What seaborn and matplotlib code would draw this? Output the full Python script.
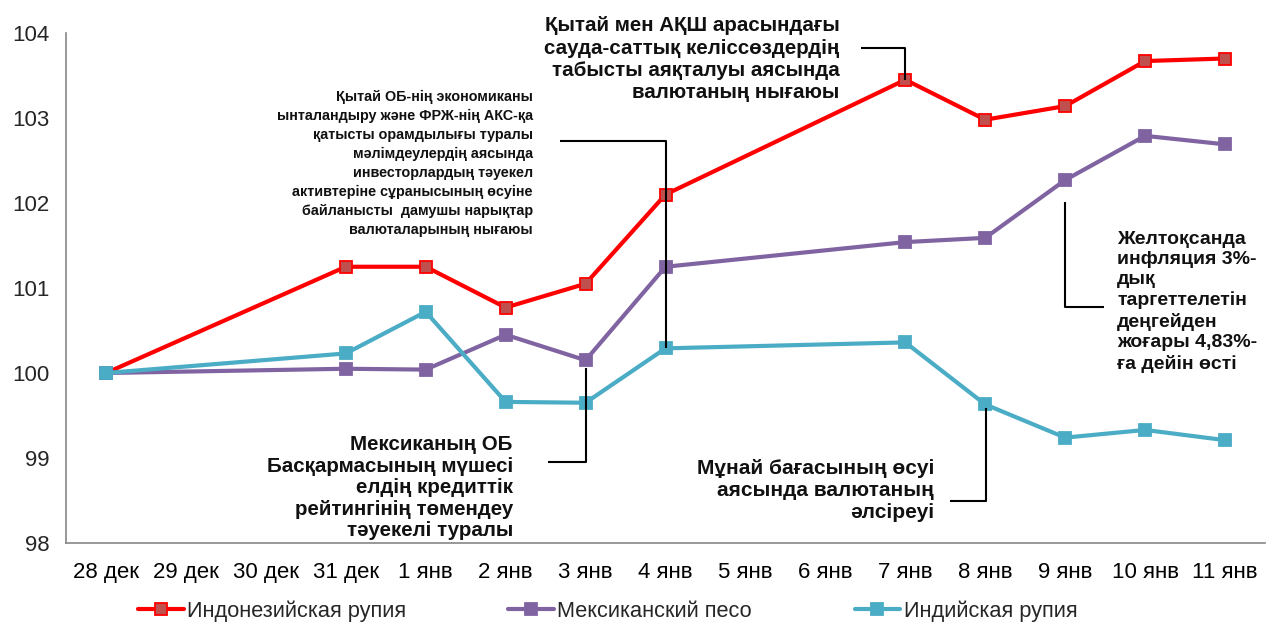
import matplotlib
matplotlib.use("Agg")
import matplotlib.pyplot as plt
from matplotlib import font_manager
import seaborn as sns
import pandas as pd
import numpy as np

categories = ["28 дек", "29 дек", "30 дек", "31 дек", "1 янв", "2 янв", "3 янв",
              "4 янв", "5 янв", "6 янв", "7 янв", "8 янв", "9 янв", "10 янв", "11 янв"]
obs_dates = ["28 дек", "31 дек", "1 янв", "2 янв", "3 янв", "4 янв",
             "7 янв", "8 янв", "9 янв", "10 янв", "11 янв"]
idr = [100.0, 101.25, 101.25, 100.77, 101.05, 102.10, 103.45, 102.98, 103.14, 103.67, 103.70]
mxn = [100.0, 100.05, 100.04, 100.45, 100.15, 101.25, 101.54, 101.59, 102.27, 102.79, 102.69]
inr = [100.0, 100.23, 100.72, 99.66, 99.65, 100.29, 100.36, 99.63, 99.24, 99.33, 99.21]
series_names = ["Индонезийская рупия", "Мексиканский песо", "Индийская рупия"]
y_ticks = [98, 99, 100, 101, 102, 103, 104]

sns.set_theme(style="white")
names = {f.name for f in font_manager.fontManager.ttflist}
base_font = "Liberation Sans" if "Liberation Sans" in names else "DejaVu Sans"
narrow_font = "Liberation Sans Narrow" if "Liberation Sans Narrow" in names else base_font
plt.rcParams["font.family"] = [base_font, "DejaVu Sans"]

pos = {c: i for i, c in enumerate(categories)}
rows = []
for name, vals in zip(series_names, [idr, mxn, inr]):
    for d, v in zip(obs_dates, vals):
        rows.append({"series": name, "x": pos[d], "value": v})
df = pd.DataFrame(rows)

fig = plt.figure(figsize=(12.73, 6.24), dpi=100)
ax = fig.add_axes([66 / 1273, 1 - 543 / 624, 1199 / 1273, 510 / 624])

styles = {
    "Индонезийская рупия": dict(color="#FF0000", mfc="#C0504D", mec="#FF0000"),
    "Мексиканский песо": dict(color="#8064A2", mfc="#8064A2", mec="#8064A2"),
    "Индийская рупия": dict(color="#4BACC6", mfc="#4BACC6", mec="#4BACC6"),
}
for name in series_names:
    st = styles[name]
    sub = df[df["series"] == name]
    sns.lineplot(data=sub, x="x", y="value", ax=ax, color=st["color"], lw=3.0,
                 marker="s", markersize=8, markerfacecolor=st["mfc"],
                 markeredgecolor=st["mec"], markeredgewidth=1.3, label=name,
                 legend=False, zorder=3)

ax.set_xlim(-0.5, len(categories) - 0.5)
ax.set_ylim(98, 104)
ax.set_yticks(y_ticks)
ax.set_yticklabels([str(t) for t in y_ticks], fontsize=16)
ax.set_xticks(range(len(categories)))
ax.set_xticklabels(categories, fontsize=16)
ax.set_xticks(np.arange(-0.5, len(categories), 1), minor=True)
ax.tick_params(axis="x", which="major", length=0, pad=14, colors="black")
ax.tick_params(axis="x", which="minor", length=6, width=1, color="#868686", direction="out")
ax.tick_params(axis="y", which="major", length=6, width=1, color="#868686", direction="out", pad=6)
ax.set_xlabel("")
ax.set_ylabel("")
for s in ["top", "right"]:
    ax.spines[s].set_visible(False)
for s in ["left", "bottom"]:
    ax.spines[s].set_color("#868686")
    ax.spines[s].set_linewidth(1.2)

ann_kw = dict(fontfamily=[narrow_font, "DejaVu Sans"], fontweight="bold", color="#111111",
              zorder=5)
lk = dict(color="black", lw=1.5, zorder=4, solid_capstyle="butt")

# annotation 1
ax.text(5.34, 102.47, "Қытай ОБ-нің экономиканы\nынталандыру және ФРЖ-нің АКС-қа\n"
        "қатысты орамдылығы туралы\nмәлімдеулердің аясында\nинвесторлардың тәуекел\n"
        "активтеріне сұранысының өсуіне\nбайланысты  дамушы нарықтар\nвалюталарының нығаюы",
        ha="right", va="center", multialignment="right", fontsize=10.4, linespacing=1.45, **ann_kw)
ax.plot([5.675, 7.0, 7.0], [102.73, 102.73, 100.29], **lk)

# annotation 2
ax.text(9.175, 103.69, "Қытай мен АҚШ арасындағы\nсауда-саттық келіссөздердің\n"
        "табысты аяқталуы аясында\nвалютаның нығаюы",
        ha="right", va="center", multialignment="right", fontsize=14.8, linespacing=1.22, **ann_kw)
ax.plot([9.45, 10.0, 10.0], [103.82, 103.82, 103.45], **lk)

# annotation 3
ax.text(12.65, 100.84, "Желтоқсанда\nинфляция 3%-\nдық\nтаргеттелетін\nдеңгейден\n"
        "жоғары 4,83%-\nға дейін өсті",
        ha="left", va="center", multialignment="left", fontsize=14, linespacing=1.25, **ann_kw)
ax.plot([12.0, 12.0, 12.49], [102.01, 100.78, 100.78], **lk)

# annotation 4
ax.text(5.09, 98.65, "Мексиканың ОБ\nБасқармасының мүшесі\nелдің кредиттік\n"
        "рейтингінің төмендеу\nтәуекелі туралы",
        ha="right", va="center", multialignment="right", fontsize=14.8, linespacing=1.16, **ann_kw)
ax.plot([5.525, 6.0, 6.0], [98.95, 98.95, 100.06], **lk)

# annotation 5
ax.text(10.36, 98.62, "Мұнай бағасының өсуі\nаясында валютаның\nәлсіреуі",
        ha="right", va="center", multialignment="right", fontsize=15, linespacing=1.2, **ann_kw)
ax.plot([11.01, 11.01, 10.56], [99.59, 98.49, 98.49], **lk)

handles, labels = ax.get_legend_handles_labels()
fig.legend(handles, labels, loc="center", bbox_to_anchor=(607.5 / 1273, 1 - 611 / 624),
           ncol=3, frameon=False, fontsize=15.7, handlelength=2.1, handletextpad=0.15,
           columnspacing=4.7)

fig.savefig("out.png", dpi=100)
